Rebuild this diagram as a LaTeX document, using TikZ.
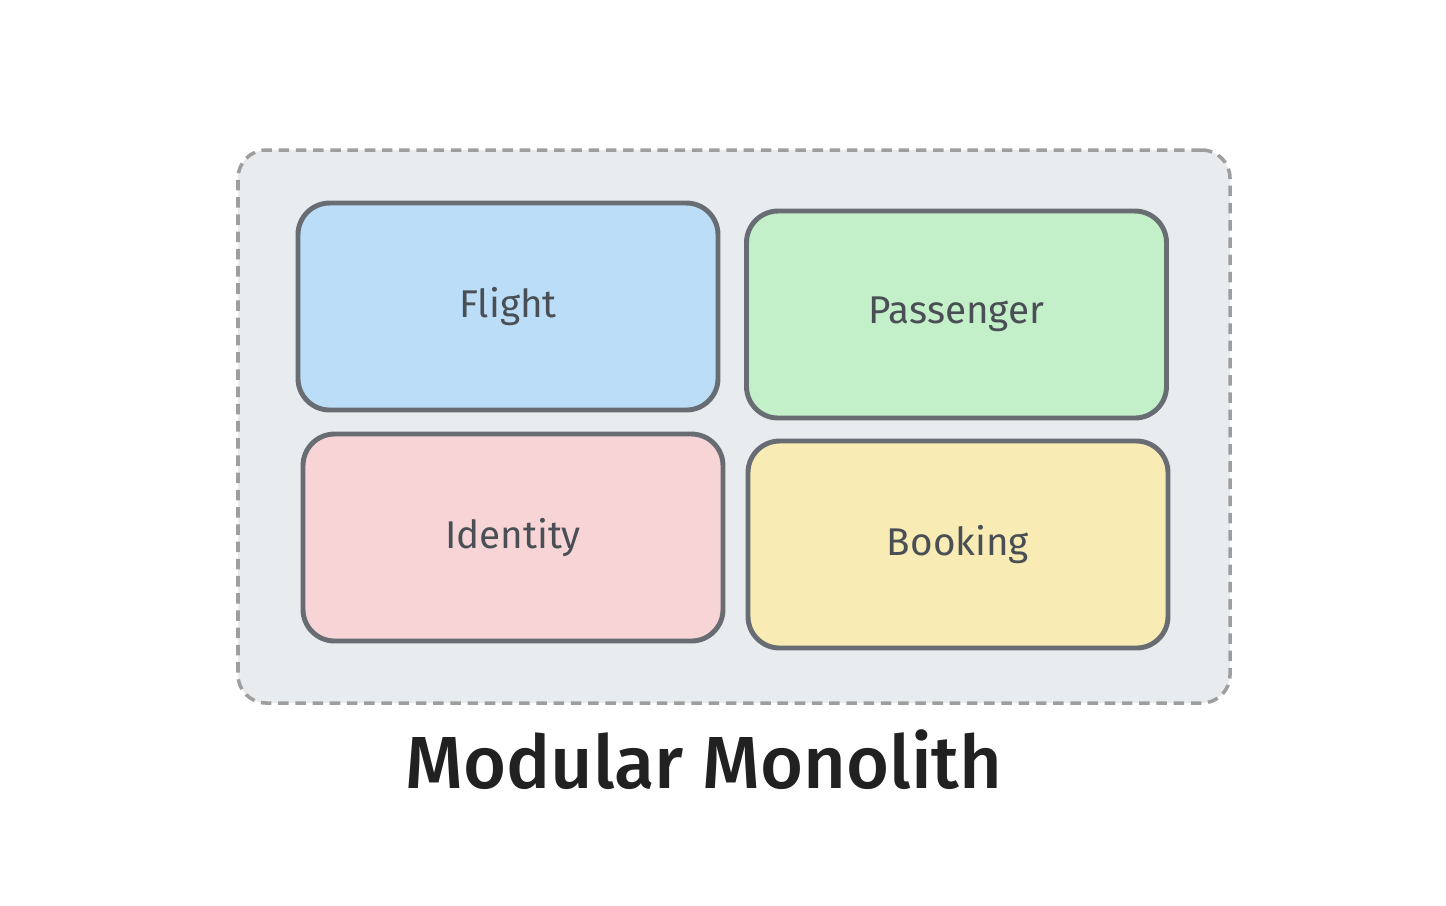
\documentclass[tikz,border=0pt]{standalone}
\usepackage{fontspec}
\setmainfont{Fira Sans}
\newfontfamily\titlefont{Fira Sans}[UprightFont=* Medium]
\usepackage{tikz}
\usetikzlibrary{calc}
\usepackage{color}

\definecolor{monofill}{HTML}{E9ECEF}
\definecolor{monoline}{HTML}{9E9E9E}
\definecolor{modline}{HTML}{686D73}
\definecolor{modtext}{HTML}{4A4F55}
\definecolor{flightfill}{HTML}{BBDDF7}
\definecolor{passfill}{HTML}{C3F0C9}
\definecolor{identfill}{HTML}{F7D4D6}
\definecolor{bookfill}{HTML}{F8EBB3}

\tikzset{
  mono/.style={draw=monoline, fill=monofill, line width=1pt,
    dash pattern=on 3pt off 1.9pt, rounded corners=8pt,
    minimum width=9.92cm, minimum height=5.53cm},
  module/.style={draw=modline, line width=1.4pt, rounded corners=9pt,
    minimum width=4.2cm, minimum height=2.07cm, text=modtext,
    font=\fontsize{11}{13}\selectfont}
}

\begin{document}
\begin{tikzpicture}[scale=1]
      \useasboundingbox (0,0) rectangle (14.46,-9.05);
      \node (Mono) at (7.34,-4.265) [mono] {};
      \node (Flight) at (5.08,-3.065) [module, fill=flightfill] {Flight};
      \node (Passenger) at (9.565,-3.145) [module, fill=passfill] {Passenger};
      \node (Identity) at (5.13,-5.375) [module, fill=identfill] {Identity};
      \node (Booking) at (9.58,-5.445) [module, fill=bookfill] {Booking};
      \node (Title) at (7.04,-7.6) [text=black!87, font=\titlefont\fontsize{21}{25}\selectfont] {Modular Monolith};
    \end{tikzpicture}
\end{document}
